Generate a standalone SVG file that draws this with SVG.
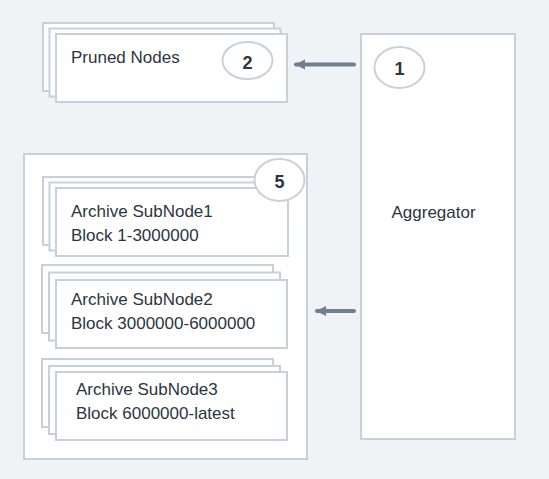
<svg xmlns="http://www.w3.org/2000/svg" width="549" height="479" viewBox="0 0 549 479">
<defs>
<style>
.box{fill:#ffffff;stroke:#c6d1db;stroke-width:2}
.badge{fill:#ffffff;stroke:#c6d1db;stroke-width:2}
.lbl{font-family:"Liberation Sans",Arial,sans-serif;font-size:17px;fill:#2d3540}
.num{font-family:"Liberation Sans",Arial,sans-serif;font-size:18px;font-weight:bold;fill:#2d3540;text-anchor:middle}
.conn{stroke:#6f7f8e;stroke-width:4;stroke-linecap:round;fill:none}
</style>
<marker id="ah" viewBox="0 0 10 10" refX="9" refY="5" markerWidth="2.6" markerHeight="2.6" orient="auto" markerUnits="strokeWidth">
<path d="M0,0 L10,5 L0,10 Z" fill="#6f7f8e"/>
</marker>
</defs>
<rect x="0" y="0" width="549" height="479" fill="#eff3f6"/>

<g id="aggregator">
<rect class="box" x="361" y="34" width="154" height="405"/>
<ellipse class="badge" cx="399.5" cy="67.5" rx="25" ry="20.5"/>
<text class="num" x="399.5" y="75">1</text>
<text class="lbl" x="391.5" y="218">Aggregator</text>
</g>

<g id="pruned-nodes">
<rect class="box" x="43" y="23" width="231" height="68"/>
<rect class="box" x="49.5" y="28.5" width="231" height="68"/>
<rect class="box" x="56" y="34" width="231" height="68"/>
<text class="lbl" x="71" y="63">Pruned Nodes</text>
<ellipse class="badge" cx="247.5" cy="60.5" rx="25" ry="18.5"/>
<text class="num" x="247.5" y="69">2</text>
</g>

<g id="archive">
<rect class="box" x="24" y="154" width="283" height="305"/>
<g id="subnode1">
<rect class="box" x="43" y="177" width="232" height="68"/>
<rect class="box" x="49.5" y="182.5" width="232" height="68"/>
<rect class="box" x="56" y="188" width="232" height="68"/>
<text class="lbl" x="71" y="217">Archive SubNode1</text>
<text class="lbl" x="71" y="241">Block 1-3000000</text>
</g>
<g id="subnode2">
<rect class="box" x="42" y="265" width="231" height="68"/>
<rect class="box" x="49" y="272.5" width="231" height="68"/>
<rect class="box" x="56" y="280" width="231" height="68"/>
<text class="lbl" x="71" y="304.5">Archive SubNode2</text>
<text class="lbl" x="71" y="328.5">Block 3000000-6000000</text>
</g>
<g id="subnode3">
<rect class="box" x="42" y="359" width="231" height="68"/>
<rect class="box" x="49" y="366" width="231" height="68"/>
<rect class="box" x="56" y="372" width="231" height="68"/>
<text class="lbl" x="76" y="395">Archive SubNode3</text>
<text class="lbl" x="76" y="419">Block 6000000-latest</text>
</g>
<ellipse class="badge" cx="279.5" cy="180" rx="25" ry="21"/>
<text class="num" x="279.5" y="188">5</text>
</g>

<g id="connectors">
<line class="conn" x1="354" y1="64.5" x2="296" y2="64.5" marker-end="url(#ah)"/>
<line class="conn" x1="354" y1="311" x2="317" y2="311" marker-end="url(#ah)"/>
</g>
</svg>
